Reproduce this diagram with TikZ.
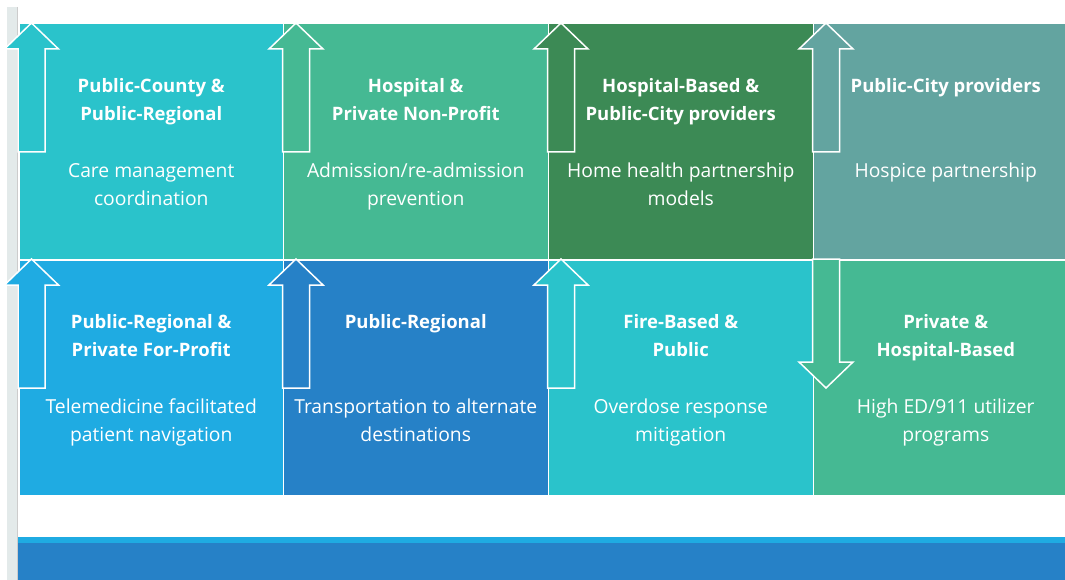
\documentclass[tikz,border=0pt]{standalone}
\usepackage{fontspec}
\setmainfont{Open Sans}
\usetikzlibrary{positioning}
\definecolor{tealcyan}{HTML}{2AC3CB}
\definecolor{seagreen}{HTML}{45B993}
\definecolor{darkgreen}{HTML}{3C8A55}
\definecolor{greyteal}{HTML}{63A4A0}
\definecolor{skyblue}{HTML}{1FABE2}
\definecolor{midblue}{HTML}{2681C7}
\definecolor{stripgrey}{HTML}{E3EAEA}

\begin{document}
\begin{tikzpicture}[x=1pt,y=-1pt,
		tile/.style={draw=white, line width=1.5pt, minimum width=265pt, minimum height=236pt, anchor=north west, inner sep=0pt},
		head/.style={text=white, font=\fontsize{18.5}{28}\selectfont\bfseries, align=center, inner sep=0pt},
		note/.style={text=white, font=\fontsize{19.3}{28}\selectfont, align=center, inner sep=0pt},
		pics/uparr/.style={code={
			\draw[white, line width=1.5pt, fill=#1] (0,0) -- (27,26) -- (13.5,26) -- (13.5,129)
				-- (-13.5,129) -- (-13.5,26) -- (-27,26) -- cycle;}},
		pics/dnarr/.style={code={
			\draw[white, line width=1.5pt, fill=#1] (-13.5,0) -- (13.5,0) -- (13.5,103) -- (27,103)
				-- (0,129) -- (-27,103) -- (-13.5,103) -- cycle;}}]
	\useasboundingbox (0,0) rectangle (1065,580);
	\clip (0,0) rectangle (1065,580);
	% grey strip on the left
	\fill[stripgrey] (7,7) rectangle (17,580);
	\draw[gray!40, line width=0.6pt] (17.5,7) -- (17.5,580);
	% bottom band
	\fill[skyblue] (18,537) rectangle (1065,543);
	\fill[midblue] (18,543) rectangle (1065,580);
	
	% top row
	\node[tile, fill=tealcyan] (cmc) at (18,23) {};
	\node[tile, fill=seagreen] (arp) at (282.5,23) {};
	\node[tile, fill=darkgreen] (hhp) at (547.5,23) {};
	\node[tile, fill=greyteal] (hsp) at (812.5,23) {};
	% bottom row
	\node[tile, fill=skyblue] (tpn) at (18,259) {};
	\node[tile, fill=midblue] (tad) at (282.5,259) {};
	\node[tile, fill=tealcyan] (odm) at (547.5,259) {};
	\node[tile, fill=seagreen] (edu) at (812.5,259) {};
	
	% arrows
	\pic at ([xshift=13.5pt]cmc.north west) {uparr=tealcyan};
	\pic at ([xshift=13.5pt]arp.north west) {uparr=seagreen};
	\pic at ([xshift=13.5pt]hhp.north west) {uparr=darkgreen};
	\pic at ([xshift=13.5pt]hsp.north west) {uparr=greyteal};
	\pic at ([xshift=13.5pt]tpn.north west) {uparr=skyblue};
	\pic at ([xshift=13.5pt]tad.north west) {uparr=midblue};
	\pic at ([xshift=13.5pt]odm.north west) {uparr=tealcyan};
	\pic at ([xshift=13.5pt]edu.north west) {dnarr=seagreen};
	
	% labels
	\foreach \t/\a/\b in {cmc/{Public-County \&\\Public-Regional}/{Care management\\coordination},
		arp/{Hospital \&\\Private Non-Profit}/{Admission/re-admission\\prevention},
		hhp/{Hospital-Based \&\\Public-City providers}/{Home health partnership\\models},
		hsp/{Public-City providers}/{Hospice partnership},
		tpn/{Public-Regional \&\\Private For-Profit}/{Telemedicine facilitated\\patient navigation},
		tad/{Public-Regional}/{Transportation to alternate\\destinations},
		odm/{Fire-Based \&\\Public}/{Overdose response\\mitigation},
		edu/{Private \&\\Hospital-Based}/{High ED/911 utilizer\\programs}}{
		\node[head, below=55pt of \t.north] (\t-h) {\a};
		\node[note, below=140pt of \t.north] (\t-n) {\b};
	}
\end{tikzpicture}
\end{document}
